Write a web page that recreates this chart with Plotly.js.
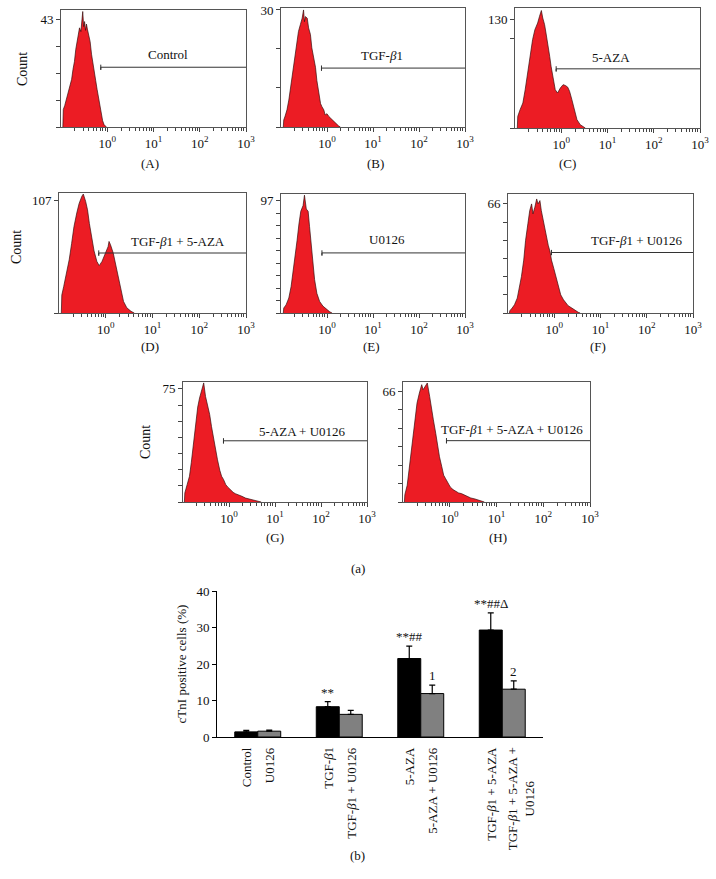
<!DOCTYPE html>
<html><head><meta charset="utf-8">
<script src="https://cdn.plot.ly/plotly-3.0.1.min.js"></script>
<style>body{margin:0;background:#fff}</style>
</head><body><div id="chart" style="width:716px;height:879px"></div>
<script>
// ---- Histogram data (x = log10 fluorescence, y = count) ----
const logA = [-0.96,-0.95,-0.92,-0.89,-0.86,-0.83,-0.80,-0.77,-0.74,-0.71,-0.68,-0.65,-0.62,-0.60,-0.57,-0.55,-0.53,-0.51,-0.49,-0.47,-0.45,-0.43,-0.40,-0.37,-0.34,-0.31,-0.28,-0.25,-0.22,-0.19,-0.16,-0.13,-0.10,-0.07,-0.04,-0.02];
const cntA = [0,7,8.5,10.5,12,14.5,16.5,19,23,26,31,34,37,39.5,38,43,46,40,42,38.5,41,39,37,34,29,26,22,18.5,15,11.5,8,5,2.5,1,0.3,0];
const logB = [-0.95,-0.94,-0.91,-0.87,-0.83,-0.80,-0.76,-0.72,-0.69,-0.65,-0.62,-0.58,-0.54,-0.51,-0.49,-0.47,-0.43,-0.40,-0.36,-0.33,-0.29,-0.25,-0.22,-0.18,-0.14,-0.11,-0.07,-0.04,0.00,0.04,0.08,0.11,0.15,0.18,0.22,0.25,0.29];
const cntB = [0,1.8,2.8,4.4,6.9,9.4,12.8,16.1,19.5,22.8,24.5,26.2,27.9,30,27,28.3,27.9,25.4,23.7,20.3,17.8,15.3,11.9,8.6,6,5.2,4.4,3.1,3.4,2.7,2.2,1.8,1.4,1,0.6,0.3,0];
const logC = [-0.95,-0.94,-0.89,-0.83,-0.78,-0.73,-0.67,-0.62,-0.57,-0.51,-0.47,-0.43,-0.40,-0.36,-0.33,-0.29,-0.25,-0.22,-0.18,-0.13,-0.08,-0.02,0.04,0.09,0.14,0.18,0.23,0.28,0.34,0.41,0.49,0.52];
const cntC = [0,14,22,30,46,66,90,106,118,126,134,141,132,124,114,102,86,74,62,46,42,48,52,51,49,44,34,22,10,4,1,0];
const logD = [-0.95,-0.94,-0.90,-0.84,-0.78,-0.73,-0.68,-0.62,-0.57,-0.51,-0.48,-0.43,-0.39,-0.35,-0.30,-0.25,-0.19,-0.14,-0.08,-0.03,0.01,0.05,0.07,0.10,0.16,0.21,0.26,0.32,0.38,0.45,0.54,0.61];
const cntD = [0,17,25,38,51,66,82,95,104,111,113,106,98,85,73,59,49,45,49,55,60,63,68,65,57,47,35,22,11,5,1.6,0];
const logE = [-0.95,-0.94,-0.89,-0.83,-0.78,-0.74,-0.70,-0.65,-0.61,-0.57,-0.52,-0.49,-0.45,-0.41,-0.38,-0.34,-0.30,-0.27,-0.22,-0.16,-0.09,-0.01,0.06,0.11];
const cntE = [0,4.3,7,13,23,34,49,63,77,88,93,102,90,88,75,60,43,29,17,10,6,3,1,0];
const logF = [-0.97,-0.96,-0.91,-0.86,-0.80,-0.76,-0.71,-0.66,-0.62,-0.57,-0.53,-0.49,-0.46,-0.42,-0.38,-0.35,-0.31,-0.28,-0.24,-0.20,-0.17,-0.13,-0.09,-0.06,-0.01,0.04,0.09,0.14,0.20,0.25,0.30,0.38,0.45,0.52,0.56];
const cntF = [0,1.4,3,5,9,14,22,32,44,54,62,66,60,64,69,66,68,62,56,50,45,41,37,32,27,22,16,11,8,6,4.4,3,1.6,0.4,0];
const logG = [-0.97,-0.96,-0.91,-0.86,-0.82,-0.77,-0.72,-0.68,-0.64,-0.59,-0.55,-0.51,-0.46,-0.42,-0.38,-0.33,-0.29,-0.25,-0.20,-0.16,-0.12,-0.07,-0.03,0.03,0.09,0.14,0.21,0.28,0.36,0.43,0.54,0.64,0.70];
const cntG = [0,6,11.5,17,26,39,50,63,69,74,79,70,63,58,50,41,35,28,21,17,15,11.5,10,8,6.4,5.5,4.9,3.8,2.6,2,1.1,0.4,0];
const logH = [-0.97,-0.96,-0.91,-0.87,-0.83,-0.78,-0.74,-0.70,-0.65,-0.60,-0.57,-0.52,-0.48,-0.43,-0.39,-0.35,-0.30,-0.26,-0.22,-0.17,-0.13,-0.09,-0.04,0.01,0.07,0.13,0.19,0.25,0.30,0.38,0.45,0.54,0.63,0.70,0.74];
const cntH = [0,4.4,10,19,29,39,49,59,65,70,67,69,71,63,57,49,41,33,27,21,16,14,11,9,7.4,6.4,5.4,5,4.4,3,2.4,1.8,1,0.2,0];

const panelNames = ['Control','TGF-<i>β</i>1','5-AZA','TGF-<i>β</i>1 + 5-AZA','U0126','TGF-<i>β</i>1 + U0126','5-AZA + U0126','TGF-<i>β</i>1 + 5-AZA + U0126'];
const panelLetters = ['(A)','(B)','(C)','(D)','(E)','(F)','(G)','(H)'];
const panelMaxLabels = [43, 30, 130, 107, 97, 66, 75, 66];
const xTickVals = [0, 1, 2, 3];
const xTickText = ['10<sup>0</sup>','10<sup>1</sup>','10<sup>2</sup>','10<sup>3</sup>'];

// ---- Bar chart data ----
const barGroups = ['Control', 'TGF-β1', '5-AZA', 'TGF-β1 + 5-AZA'];
const labelsBlack = ['Control', 'TGF-<i>β</i>1', '5-AZA', 'TGF-<i>β</i>1 + 5-AZA'];
const labelsGray = ['U0126', 'TGF-<i>β</i>1 + U0126', '5-AZA + U0126', 'TGF-<i>β</i>1 + 5-AZA +<br>U0126'];
const valuesBlack = [1.4, 8.3, 21.5, 29.3];
const errBlack = [0.4, 1.4, 3.4, 4.7];
const valuesGray = [1.6, 6.2, 11.9, 13.1];
const errGray = [0.3, 1.1, 2.3, 2.3];
const sigBlack = ['', '**', '**##', '**##Δ'];
const sigGray = ['', '', '1', '2'];
const barYTicks = [0, 10, 20, 30, 40];

// ---- layout settings ----
const W = 716, H = 879;
const FONT = 'Liberation Serif, Times New Roman, serif';
const dataSets = [[logA,cntA],[logB,cntB],[logC,cntC],[logD,cntD],[logE,cntE],[logF,cntF],[logG,cntG],[logH,cntH]];
const cfg = [
  {box:[61,10,246,127],  yr:46.6, ticks:4, gate:[-0.14,23.8], lab:[1.32,28.7], cap:[150,163], count:[22,69]},
  {box:[281,8,465,127],  yr:30.5, ticks:3, gate:[-0.12,15.1], lab:[1.2,18.2],  cap:[375,163]},
  {box:[515,8,700,128],  yr:144,  ticks:1, gate:[-0.11,71],   lab:[1.08,85],   cap:[567,163]},
  {box:[59,193,246,313], yr:114,  ticks:1, gate:[-0.15,57],   lab:[1.55,68],   cap:[150,346], count:[16,247]},
  {box:[281,194,465,313],yr:103,  ticks:9, gate:[-0.11,52],   lab:[1.3,64],    cap:[372,346]},
  {box:[508,194,693,313],yr:72,   ticks:6, gate:[-0.06,36.6], lab:[1.78,44],   cap:[598,346]},
  {box:[183,382,367,502],yr:79.6, ticks:7, gate:[-0.12,40.6], lab:[1.59,47],   cap:[275,537], count:[145,442]},
  {box:[403,382,590,502],yr:71.6, ticks:6, gate:[-0.07,36.6], lab:[1.33,43],   cap:[498,537]}
];
const px = v => v / W, py = v => 1 - v / H;

const minorVals = [];
for (let k = -1; k < 3; k++) for (let m = 2; m <= 9; m++) minorVals.push(k + Math.log10(m));

const traces = [];
const layout = {
  width: W, height: H, margin: {l:0, r:0, t:0, b:0},
  paper_bgcolor: '#fff', plot_bgcolor: '#fff', showlegend: false,
  font: {family: FONT, color: '#111', size: 13},
  annotations: [], shapes: []
};

cfg.forEach((c, i) => {
  const n = i + 1;
  const xa = 'xaxis' + (n === 1 ? '' : n), ya = 'yaxis' + (n === 1 ? '' : n);
  const xr = 'x' + (n === 1 ? '' : n), yr = 'y' + (n === 1 ? '' : n);
  const [xs, ys] = dataSets[i];
  traces.push({
    type: 'scatter', mode: 'lines', x: xs, y: ys, xaxis: xr, yaxis: yr,
    fill: 'tozeroy', fillcolor: '#ec1c24',
    line: {color: 'rgba(50,10,10,0.85)', width: 0.8}, hoverinfo: 'skip'
  });
  // gate marker line
  const g = c.gate, h = c.yr * 0.022;
  traces.push({
    type: 'scatter', mode: 'lines', xaxis: xr, yaxis: yr,
    x: [g[0], g[0], g[0], 3], y: [g[1] + h, g[1] - h, g[1], g[1]],
    line: {color: '#333', width: 1}, hoverinfo: 'skip'
  });
  const maxL = panelMaxLabels[i];
  const minorY = [];
  if (i === 2) minorY.push(0, 108);
  else for (let k = 0; k < c.ticks; k++) minorY.push(maxL * k / c.ticks);
  layout[xa] = {
    domain: [px(c.box[0]), px(c.box[2])], anchor: yr, range: [-1, 3],
    showline: true, mirror: true, linecolor: '#555', linewidth: 1,
    showgrid: false, zeroline: false,
    tickmode: 'array', tickvals: xTickVals, ticktext: xTickText,
    ticks: 'outside', ticklen: 4, tickcolor: '#444', tickwidth: 1,
    tickfont: {family: FONT, size: 13, color: '#111'},
    minor: {tickmode: 'array', tickvals: minorVals, ticks: 'outside', ticklen: 2.5, tickcolor: '#444', tickwidth: 1, showgrid: false}
  };
  layout[ya] = {
    domain: [py(c.box[3]), py(c.box[1])], anchor: xr, range: [0, c.yr],
    showline: true, mirror: true, linecolor: '#555', linewidth: 1,
    showgrid: false, zeroline: false,
    tickmode: 'array', tickvals: [maxL], ticktext: [String(maxL)],
    ticks: 'outside', ticklen: 4, tickcolor: '#444', tickwidth: 1,
    tickfont: {family: FONT, size: 13, color: '#111'},
    minor: {tickmode: 'array', tickvals: minorY, ticks: 'outside', ticklen: 4, tickcolor: '#444', tickwidth: 1, showgrid: false}
  };
  layout.annotations.push({
    xref: xr, yref: yr, x: c.lab[0], y: c.lab[1], text: panelNames[i],
    showarrow: false, font: {family: FONT, size: 13, color: '#111'}, xanchor: 'center', yanchor: 'middle'
  });
  layout.annotations.push({
    xref: 'paper', yref: 'paper', x: px(c.cap[0]), y: py(c.cap[1]), text: panelLetters[i],
    showarrow: false, font: {family: FONT, size: 13, color: '#111'}, xanchor: 'center', yanchor: 'middle'
  });
  if (c.count) layout.annotations.push({
    xref: 'paper', yref: 'paper', x: px(c.count[0]), y: py(c.count[1]), text: 'Count', textangle: -90,
    showarrow: false, font: {family: FONT, size: 14, color: '#111'}, xanchor: 'center', yanchor: 'middle'
  });
});

layout.annotations.push({xref:'paper', yref:'paper', x: px(358), y: py(568), text: '(a)', showarrow:false, font:{family:FONT,size:13,color:'#111'}});
layout.annotations.push({xref:'paper', yref:'paper', x: px(357), y: py(865), text: '(b)', showarrow:false, font:{family:FONT,size:13,color:'#111'}});

// ---- bar chart ----
traces.push({
  type: 'bar', x: barGroups, y: valuesBlack, xaxis: 'x9', yaxis: 'y9',
  marker: {color: '#000', line: {color: '#000', width: 1}},
  error_y: {type: 'data', array: errBlack, arrayminus: errBlack.map(() => 0), symmetric: false, color: '#000', thickness: 1.2, width: 3}
});
traces.push({
  type: 'bar', x: barGroups, y: valuesGray, xaxis: 'x9', yaxis: 'y9',
  marker: {color: '#808080', line: {color: '#000', width: 1}},
  error_y: {type: 'data', array: errGray, arrayminus: errGray.map(() => 0), symmetric: false, color: '#000', thickness: 1.2, width: 3}
});
layout.barmode = 'group';
layout.bargap = 0.436;
layout.bargroupgap = 0;
layout.xaxis9 = {
  domain: [px(217), px(543)], anchor: 'y9', type: 'category', range: [-0.5, 3.5],
  showline: true, linecolor: '#000', linewidth: 1, showticklabels: false, ticks: '', showgrid: false, zeroline: false
};
layout.yaxis9 = {
  domain: [py(737), py(591)], anchor: 'x9', range: [0, 40],
  showline: true, linecolor: '#000', linewidth: 1, showgrid: false, zeroline: false,
  tickmode: 'array', tickvals: barYTicks, ticks: 'outside', ticklen: 4, tickcolor: '#000',
  tickfont: {family: FONT, size: 13, color: '#111'},
  title: {text: 'cTnI positive cells (%)', font: {family: FONT, size: 13, color: '#111'}, standoff: 6},
  automargin: false
};

const OFF = 11.5;
barGroups.forEach((gname, i) => {
  layout.annotations.push({xref:'x9', yref:'y9', x: gname, y: 0, yanchor:'top', xanchor:'center', yshift: -8, xshift: -OFF,
    text: labelsBlack[i], textangle: -90, showarrow:false, font:{family:FONT,size:13,color:'#111'}});
  layout.annotations.push({xref:'x9', yref:'y9', x: gname, y: 0, yanchor:'top', xanchor:'center', yshift: -8, xshift: OFF + (i === 3 ? 7 : 0),
    text: labelsGray[i], textangle: -90, showarrow:false, font:{family:FONT,size:13,color:'#111'}});
  if (sigBlack[i]) layout.annotations.push({xref:'x9', yref:'y9', x: gname, y: valuesBlack[i] + errBlack[i], yanchor:'bottom', xanchor:'center', xshift: -OFF,
    text: sigBlack[i], showarrow:false, font:{family:FONT,size:13,color:'#111'}});
  if (sigGray[i]) layout.annotations.push({xref:'x9', yref:'y9', x: gname, y: valuesGray[i] + errGray[i], yanchor:'bottom', xanchor:'center', xshift: OFF,
    text: sigGray[i], showarrow:false, font:{family:FONT,size:13,color:'#111'}});
});

Plotly.newPlot('chart', traces, layout, {staticPlot: true, displayModeBar: false});
</script>
</body></html>
